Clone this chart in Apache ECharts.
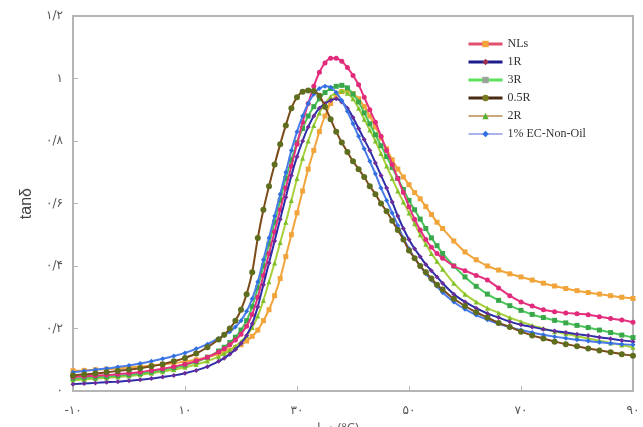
<!DOCTYPE html>
<html>
<head>
<meta charset="utf-8">
<script src="https://cdn.jsdelivr.net/npm/echarts@6/dist/echarts.min.js"></script>
<style>
  html, body { margin: 0; padding: 0; background: #fff; }
  #chart { width: 643px; height: 427px; }
</style>
</head>
<body>
<div id="chart"></div>
<script>
// Temperature grid (°C): coarse on the flat parts, 1 °C through the transition
const temps = [-10,-8,-6,-4,-2,0,2,4,6,8,10,12,14,
  16,17,18,19,20,21,22,23,24,25,26,27,28,29,30,31,32,33,34,35,36,37,38,39,40,41,42,43,44,45,46,47,48,49,50,51,52,53,54,55,56,
  58,60,62,64,66,68,70,72,74,76,78,80,82,84,86,88,90];

// tan δ for each sample
const nlsA = [0.045,0.047,0.049,0.051,0.054,0.057,0.061,0.066,0.071,0.078,0.086,0.096,0.108,
  0.125,0.135,0.148,0.163,0.182,0.207,0.245,0.30,0.37,0.44,0.51,0.58,0.65,0.72,0.79,0.86,0.92,0.975,1.02,1.05,1.065,1.065,1.055,1.035,1.01,0.98,0.94,0.90,0.86,0.815,0.77,0.725,0.68,0.635,0.59,0.55,0.515,0.485,0.46,0.44,0.425,
  0.40,0.385,0.37,0.355,0.33,0.305,0.285,0.272,0.26,0.254,0.25,0.247,0.244,0.238,0.232,0.227,0.22];

const nlsB = [0.065,0.066,0.068,0.07,0.072,0.075,0.078,0.081,0.085,0.089,0.094,0.10,0.108,
  0.118,0.124,0.131,0.139,0.148,0.16,0.175,0.195,0.225,0.26,0.305,0.36,0.43,0.50,0.57,0.64,0.71,0.77,0.83,0.88,0.92,0.945,0.958,0.96,0.952,0.935,0.91,0.88,0.845,0.81,0.775,0.74,0.71,0.685,0.66,0.635,0.615,0.59,0.565,0.54,0.52,
  0.48,0.445,0.42,0.40,0.387,0.375,0.365,0.355,0.345,0.336,0.328,0.321,0.315,0.31,0.305,0.30,0.296];

const r1 = [0.022,0.024,0.026,0.028,0.03,0.033,0.036,0.04,0.045,0.05,0.057,0.066,0.078,
  0.095,0.105,0.118,0.133,0.152,0.178,0.215,0.27,0.34,0.41,0.48,0.55,0.62,0.69,0.75,0.80,0.845,0.88,0.905,0.92,0.93,0.935,0.925,0.905,0.875,0.84,0.805,0.77,0.73,0.69,0.65,0.605,0.56,0.52,0.485,0.455,0.43,0.405,0.385,0.365,0.345,
  0.31,0.285,0.265,0.248,0.235,0.222,0.212,0.205,0.198,0.192,0.187,0.182,0.178,0.172,0.167,0.162,0.158];

const r3 = [0.04,0.042,0.044,0.046,0.049,0.052,0.056,0.061,0.067,0.074,0.083,0.094,0.108,
  0.128,0.14,0.155,0.172,0.195,0.225,0.27,0.33,0.40,0.47,0.54,0.61,0.68,0.74,0.795,0.84,0.88,0.91,0.935,0.955,0.968,0.975,0.978,0.97,0.95,0.925,0.89,0.855,0.82,0.785,0.75,0.715,0.68,0.645,0.61,0.58,0.55,0.52,0.49,0.465,0.44,
  0.40,0.365,0.335,0.31,0.29,0.273,0.258,0.245,0.235,0.226,0.218,0.21,0.203,0.195,0.187,0.179,0.171];

const r05 = [0.05,0.053,0.056,0.06,0.064,0.068,0.073,0.079,0.086,0.095,0.106,0.12,0.14,
  0.165,0.18,0.20,0.225,0.26,0.31,0.38,0.49,0.58,0.655,0.725,0.79,0.85,0.905,0.94,0.958,0.962,0.96,0.945,0.91,0.87,0.83,0.795,0.765,0.735,0.71,0.685,0.655,0.63,0.60,0.575,0.545,0.515,0.485,0.45,0.425,0.40,0.38,0.36,0.34,0.325,
  0.295,0.272,0.252,0.235,0.218,0.205,0.19,0.178,0.168,0.158,0.15,0.143,0.136,0.13,0.124,0.118,0.113];

const r2 = [0.035,0.037,0.04,0.042,0.045,0.048,0.052,0.057,0.062,0.068,0.076,0.085,0.096,
  0.11,0.12,0.13,0.143,0.158,0.177,0.203,0.24,0.29,0.35,0.41,0.475,0.54,0.61,0.68,0.745,0.80,0.85,0.89,0.92,0.942,0.955,0.96,0.953,0.935,0.905,0.87,0.835,0.80,0.76,0.72,0.68,0.64,0.605,0.57,0.535,0.50,0.47,0.44,0.415,0.39,
  0.345,0.31,0.285,0.265,0.25,0.235,0.222,0.21,0.20,0.19,0.183,0.175,0.168,0.161,0.154,0.147,0.14];

const ec = [0.06,0.064,0.068,0.072,0.077,0.082,0.088,0.095,0.103,0.112,0.122,0.135,0.15,
  0.168,0.178,0.19,0.205,0.225,0.255,0.295,0.35,0.42,0.49,0.56,0.63,0.70,0.77,0.83,0.88,0.92,0.95,0.968,0.975,0.972,0.955,0.93,0.895,0.855,0.815,0.775,0.735,0.695,0.65,0.61,0.57,0.53,0.49,0.455,0.425,0.40,0.375,0.355,0.335,0.315,
  0.285,0.262,0.243,0.228,0.215,0.204,0.195,0.187,0.18,0.174,0.169,0.164,0.16,0.156,0.153,0.15,0.148];

const legendNames = ['NLs', '1R', '3R', '0.5R', '2R', '1% EC-Non-Oil'];
const xTicks = [-10, 10, 30, 50, 70, 90];
const yTicks = [0, 0.2, 0.4, 0.6, 0.8, 1, 1.2];

const faDigits = '۰۱۲۳۴۵۶۷۸۹';
function toFa(str) {
  return String(str).replace(/[0-9]/g, d => faDigits[+d]).replace('.', '/');
}
function pairs(ys) { return temps.map((t, i) => [t, ys[i]]); }

function curve(name, ys, lineColor, markColor, symbol, size, z) {
  return {
    name: name,
    type: 'line',
    data: pairs(ys),
    smooth: 0.3,
    symbol: symbol,
    symbolSize: size,
    showSymbol: true,
    z: z,
    lineStyle: { color: lineColor, width: 2 },
    itemStyle: { color: markColor, borderWidth: 0 },
    emphasis: { disabled: true }
  };
}

const axisGrey = '#b5b5b5';

const chart = echarts.init(document.getElementById('chart'), null, { renderer: 'canvas' });
chart.setOption({
  animation: false,
  backgroundColor: '#ffffff',
  grid: {
    left: 73, right: 10, top: 16, bottom: 36,
    outerBoundsMode: 'none',
    containLabel: false,
    show: true, borderColor: axisGrey, borderWidth: 2, backgroundColor: 'transparent'
  },
  legend: {
    orient: 'vertical',
    left: 462, top: 33,
    itemWidth: 34, itemHeight: 8, itemGap: 6,
    textStyle: { fontFamily: 'Liberation Serif', fontSize: 12, color: '#333' },
    data: [
      { name: legendNames[0], lineStyle: { color: '#e2506e', width: 3 }, itemStyle: { color: '#f0a43a' } },
      { name: legendNames[1], lineStyle: { color: '#1c1c8c', width: 3 }, itemStyle: { color: '#a03050' } },
      { name: legendNames[2], lineStyle: { color: '#5ee05e', width: 3 }, itemStyle: { color: '#9aa39a' } },
      { name: legendNames[3], lineStyle: { color: '#4a2a10', width: 3 }, itemStyle: { color: '#7a7a1e' } },
      { name: legendNames[4], lineStyle: { color: '#c9a97a', width: 2 }, itemStyle: { color: '#5ab030' } },
      { name: legendNames[5], lineStyle: { color: '#aab4ea', width: 2 }, itemStyle: { color: '#2f6fe0' } }
    ]
  },
  graphic: [{
    type: 'text',
    left: 19, top: 188,
    rotation: Math.PI / 2,
    style: { text: 'tanδ', font: '16px "Liberation Sans"', fill: '#444' }
  }],
  xAxis: {
    type: 'value',
    min: -10, max: 90, interval: 20,
    name: 'دما (°C)',
    nameLocation: 'middle',
    nameGap: 30,
    nameTextStyle: { fontFamily: 'Noto Sans', fontSize: 13, color: '#666', padding: [0, 30, 0, 0], verticalAlign: 'top' },
    axisLine: { show: true, onZero: false, lineStyle: { color: axisGrey, width: 2 } },
    axisTick: { show: true, inside: true, length: 5, lineStyle: { color: axisGrey } },
    splitLine: { show: false },
    axisLabel: {
      margin: 14, fontFamily: 'DejaVu Sans', fontSize: 12, color: '#555',
      formatter: v => xTicks.includes(v) ? toFa(v) : ''
    }
  },
  yAxis: {
    type: 'value',
    min: 0, max: 1.2, interval: 0.2,
    axisLine: { show: true, onZero: false, lineStyle: { color: axisGrey, width: 2 } },
    axisTick: { show: true, inside: true, length: 5, lineStyle: { color: axisGrey } },
    splitLine: { show: false },
    axisLabel: {
      margin: 10, fontFamily: 'DejaVu Sans', fontSize: 12, color: '#555',
      formatter: v => {
        const t = yTicks.find(k => Math.abs(k - v) < 1e-6);
        return t === undefined ? '' : toFa(Number(t.toFixed(1)));
      }
    }
  },
  series: [
    curve('NLs', nlsB, '#f0a43a', '#f0a43a', 'rect', 5, 2),
    curve('2R', r2, '#a8cf3c', '#7fbf2a', 'triangle', 5, 3),
    curve('3R', r3, '#4cc85a', '#3aa84a', 'rect', 5, 4),
    curve('NLs', nlsA, '#e5317f', '#e02a7a', 'circle', 5, 5),
    curve('1R', r1, '#2d2da8', '#6a2c9a', 'diamond', 5, 6),
    curve('1% EC-Non-Oil', ec, '#4a7ce8', '#2f6fe0', 'diamond', 5, 7),
    curve('0.5R', r05, '#7a4a18', '#5f6e1e', 'circle', 6, 8)
  ]
});
</script>
</body>
</html>
